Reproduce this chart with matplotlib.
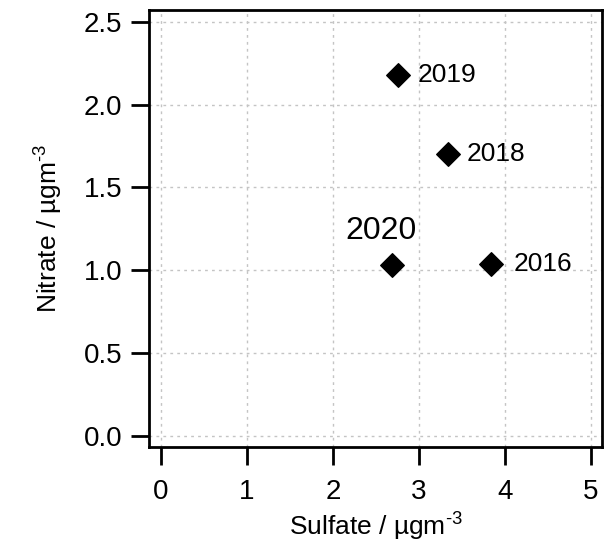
import matplotlib
matplotlib.use("Agg")
import matplotlib.pyplot as plt

plt.rcParams['font.family'] = ['Liberation Sans', 'DejaVu Sans']
plt.rcParams['mathtext.fontset'] = 'custom'
plt.rcParams['mathtext.rm'] = 'Liberation Sans'
plt.rcParams['mathtext.it'] = 'Liberation Sans'

# data
years = ["2019", "2018", "2020", "2016"]
sulfate = [2.76, 3.34, 2.69, 3.84]
nitrate = [2.18, 1.70, 1.03, 1.04]
x_ticks = [0, 1, 2, 3, 4, 5]
y_ticks = [0.0, 0.5, 1.0, 1.5, 2.0, 2.5]

# label layout (offsets in points, font sizes)
label_offsets = [(14, 0), (13, 0), (-8, 25), (16, 0)]
label_ha = ["left", "left", "center", "left"]
label_sizes = [19, 19, 23, 19]

fig = plt.figure(figsize=(6.16, 5.45), dpi=100)
ax = fig.add_axes([0.2419, 0.1798, 0.9773 - 0.2419, 0.9817 - 0.1798])

ax.scatter(sulfate, nitrate, marker='D', s=12**2, color='black', zorder=3)
for yr, sx, ny, off, ha, fs in zip(years, sulfate, nitrate, label_offsets, label_ha, label_sizes):
    ax.annotate(yr, (sx, ny), xytext=off, textcoords='offset points',
                ha=ha, va='center', fontsize=fs, color='black')

ax.set_xlim(-0.1395, 5.128)
ax.set_ylim(-0.066, 2.571)
ax.set_xticks(x_ticks)
ax.set_xticklabels([str(v) for v in x_ticks])
ax.set_yticks(y_ticks)
ax.set_yticklabels([f"{v:.1f}" for v in y_ticks])

ax.grid(True, color='#c4c4c4', linestyle=(0, (2, 3)), linewidth=1.0)
ax.set_axisbelow(True)
for sp in ax.spines.values():
    sp.set_linewidth(2.0)
ax.tick_params(axis='both', direction='out', length=13, width=2.0,
               labelsize=20, pad=6)
ax.tick_params(axis='x', pad=10)

ax.set_xlabel("Sulfate / µgm$^{\\text{-}3}$", fontsize=19, labelpad=4)
ax.set_ylabel("Nitrate / µgm$^{\\text{-}3}$", fontsize=19, labelpad=14)

fig.savefig("out.png", dpi=100)
